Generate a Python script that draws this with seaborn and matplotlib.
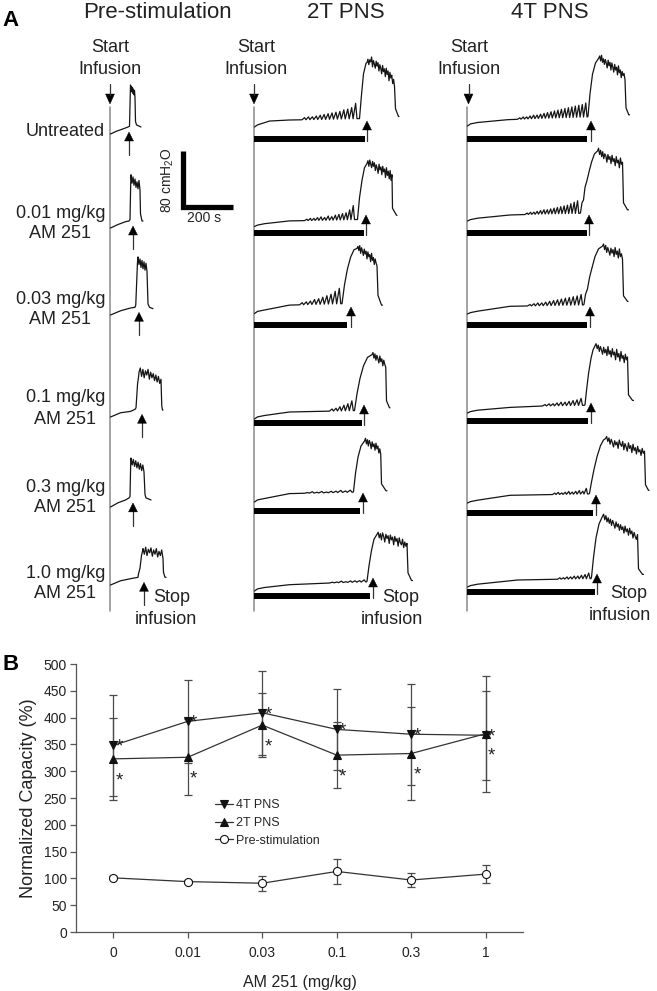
import numpy as np
import pandas as pd
import matplotlib
matplotlib.use("Agg")
import matplotlib.pyplot as plt
from matplotlib.patches import Polygon
import seaborn as sns

# ------------------------------------------------------------------ panel B data
dose_labels = ["0", "0.01", "0.03", "0.1", "0.3", "1"]
pns4_mean = [348, 393, 409, 378, 369, 367]
pns4_err = [94, 77, 78, 75, 94, 83]
pns2_mean = [323, 326, 386, 330, 333, 370]
pns2_err = [76, 71, 60, 62, 86, 108]
pre_mean = [101, 94, 91, 113, 97, 108]
pre_err = [3, 3, 14, 23, 13, 17]
series_names = ["4T PNS", "2T PNS", "Pre-stimulation"]

# ------------------------------------------------------------------ panel A data
column_titles = ["Pre-stimulation", "2T PNS", "4T PNS"]
row_first = ["Untreated", "0.01 mg/kg", "0.03 mg/kg", "0.1 mg/kg", "0.3 mg/kg", "1.0 mg/kg"]
row_second = ["", "AM 251", "AM 251", "AM 251", "AM 251", "AM 251"]

# cystometrogram traces: time (s), pressure (cmH2O)
pre_traces = [
    dict(base=[(0, 4), (24, 8), (48, 11), (70, 14)], rise=[(76, 15), (79, 60)],
         top=(80, 98, [74, 66, 72, 64, 70, 62, 68, 60, 66, 56]), fall=[(100, 22), (104, 17), (122, 14)]),
    dict(base=[(0, 4), (30, 9), (60, 13), (74, 14)], rise=[(78, 16), (81, 70)],
         top=(82, 118, [80, 68, 77, 65, 74, 62, 70, 60, 72, 58]), fall=[(120, 24), (126, 14), (130, 14)]),
    dict(base=[(0, 4), (40, 10), (80, 14), (98, 15)], rise=[(101, 18), (108, 80)],
         top=(110, 146, [87, 76, 84, 72, 82, 70, 80, 68, 78, 66]), fall=[(150, 20), (156, 15), (170, 13)]),
    dict(base=[(0, 4), (40, 10), (80, 12), (98, 15)], rise=[(102, 17), (108, 50), (113, 64)],
         top=(114, 202, [68, 74, 62, 72, 60, 70, 64, 72, 58, 68, 60, 66, 56, 64, 54, 62, 52, 58]),
         fall=[(205, 20), (208, 14), (210, 14)]),
    dict(base=[(0, 4), (30, 10), (60, 14), (74, 17)], rise=[(78, 19), (81, 70)],
         top=(82, 134, [74, 64, 72, 62, 70, 60, 68, 58, 66, 56, 64, 54]), fall=[(138, 22), (142, 17), (162, 14)]),
    dict(base=[(0, 4), (40, 10), (80, 13), (110, 15)], rise=[(112, 20), (118, 28), (124, 46), (128, 52)],
         top=(130, 210, [56, 48, 58, 46, 55, 50, 57, 45, 54, 48, 56, 44, 52, 46, 54, 42]),
         fall=[(212, 22), (218, 15), (222, 15)]),
]

pns2_traces = [
    dict(base=[(0, 4), (12, 7), (60, 12.5), (140, 14), (300, 15), (418, 16)],
         osc=(190, 410, [3, 4, 4, 5, 6, 7, 8, 9, 10, 11, 13, 14, 16, 22]),
         rise=[(420, 16), (428, 50), (436, 80), (446, 95)],
         top=(450, 560, [96, 101, 93, 100, 97, 104, 90, 99, 94, 88, 98, 91, 96, 84, 93, 88, 80, 92,
                         83, 87, 76, 88, 79, 84, 70, 82, 74, 78, 66, 72, 62]),
         fall=[(564, 30), (576, 19), (578, 19)]),
    dict(base=[(0, 4), (12, 6), (40, 8), (140, 12), (300, 13), (410, 14)],
         osc=(200, 400, [2, 3, 3, 4, 5, 4, 6, 5, 7, 8, 9, 10, 14, 20]),
         rise=[(412, 14), (420, 45), (430, 70), (440, 88)],
         top=(450, 550, [94, 98, 90, 99, 93, 88, 97, 90, 95, 84, 92, 87, 80, 93, 85, 89, 78, 90, 82,
                         86, 74, 88, 77, 83, 72, 84, 70, 78]),
         fall=[(552, 30), (568, 20), (570, 20)]),
    dict(base=[(0, 4), (12, 7), (40, 9), (140, 16), (348, 18)],
         osc=(180, 345, [3, 4, 5, 7, 8, 10, 12, 14, 18, 22]),
         rise=[(350, 18), (360, 45), (372, 68), (385, 85), (398, 95)],
         top=(410, 490, [97, 100, 94, 101, 90, 98, 93, 87, 96, 89, 93, 82, 92, 85, 88, 78, 90, 80,
                         84, 74, 82, 76, 72]),
         fall=[(494, 30), (508, 16), (512, 16)]),
    dict(base=[(0, 4), (12, 7), (40, 9), (140, 14), (398, 16)],
         osc=(300, 395, [3, 4, 6, 8, 10, 14]),
         rise=[(400, 16), (410, 40), (422, 62), (436, 80), (452, 92)],
         top=(470, 525, [96, 99, 91, 97, 88, 95, 90, 84, 94, 86, 90, 80, 88, 82, 78]),
         fall=[(528, 30), (540, 20), (542, 20)]),
    dict(base=[(0, 4), (12, 7), (40, 9), (140, 16), (394, 18)],
         osc=(200, 390, [1, 2, 1, 2, 1, 2, 2, 3, 2, 3]),
         rise=[(396, 19), (404, 45), (414, 68), (426, 84)],
         top=(440, 505, [91, 95, 87, 93, 84, 92, 88, 80, 90, 83, 87, 78, 88, 80, 84, 74, 80, 72]),
         fall=[(508, 30), (526, 20), (530, 20)]),
    dict(base=[(0, 4), (12, 7), (40, 9), (140, 13), (340, 16), (448, 17)],
         osc=(300, 445, [1, 1, 2, 1, 2, 2, 2, 3]),
         rise=[(450, 18), (458, 40), (468, 62), (478, 78)],
         top=(490, 610, [85, 88, 80, 86, 77, 87, 82, 74, 85, 79, 83, 72, 84, 77, 81, 70, 82, 75,
                         79, 68, 80, 73, 70, 78, 66, 74, 68, 72]),
         fall=[(614, 30), (628, 19), (632, 19)]),
]

pns4_traces = [
    dict(base=[(0, 4), (12, 7), (40, 9), (160, 13), (300, 15), (480, 17)],
         osc=(200, 478, [2, 3, 3, 4, 5, 5, 6, 7, 8, 9, 10, 11, 12, 13, 14, 15, 16, 17, 18, 20]),
         rise=[(482, 18), (490, 50), (500, 78), (512, 94)],
         top=(525, 630, [101, 104, 97, 105, 95, 100, 92, 99, 94, 87, 98, 90, 95, 84, 94, 88, 81, 92,
                         84, 88, 77, 90, 80, 84, 73, 82, 76, 79, 70]),
         fall=[(634, 30), (645, 20), (648, 20)]),
    dict(base=[(0, 4), (12, 6), (40, 8), (170, 12.6), (300, 14), (450, 15)],
         osc=(230, 445, [2, 3, 3, 4, 5, 6, 6, 7, 8, 9, 10, 11, 12, 14, 16, 18]),
         rise=[(452, 16), (458, 30), (464, 34), (470, 52), (478, 62), (486, 74), (496, 88), (508, 100)],
         top=(520, 620, [104, 108, 99, 105, 96, 103, 93, 100, 97, 88, 99, 92, 96, 86, 98, 89, 93, 83,
                         96, 87, 91, 80, 94, 85, 88]),
         fall=[(624, 30), (640, 20), (644, 20)]),
    dict(base=[(0, 4), (12, 6), (40, 8), (170, 15), (464, 17)],
         osc=(240, 460, [2, 3, 4, 4, 5, 6, 7, 8, 9, 10, 11, 12, 13, 15]),
         rise=[(466, 18), (472, 32), (480, 40), (488, 56), (498, 70), (510, 86), (524, 97)],
         top=(540, 620, [101, 104, 96, 102, 92, 99, 94, 88, 98, 91, 96, 86, 99, 89, 94, 84, 97, 86,
                         90, 82]),
         fall=[(624, 30), (640, 22), (642, 22)]),
    dict(base=[(0, 4), (12, 6), (40, 8), (170, 12), (300, 14), (468, 15)],
         osc=(300, 460, [2, 3, 3, 4, 5, 5, 6, 7, 8, 10]),
         rise=[(470, 16), (476, 36), (484, 60), (494, 82), (502, 94)],
         top=(510, 640, [100, 103, 96, 101, 92, 99, 94, 88, 98, 90, 95, 86, 99, 88, 93, 84, 96, 87,
                         91, 80, 95, 84, 89, 78, 92, 82, 86, 76, 88, 80, 84]),
         fall=[(644, 30), (660, 22), (664, 22)]),
    dict(base=[(0, 4), (12, 6), (40, 8), (170, 15), (486, 17)],
         osc=(340, 480, [2, 3, 2, 3, 4, 3, 4, 5, 4, 8]),
         rise=[(488, 18), (496, 34), (506, 52), (518, 70), (532, 86), (544, 94)],
         top=(552, 708, [96, 99, 92, 97, 88, 95, 90, 84, 93, 87, 91, 82, 94, 88, 85, 92, 80, 89, 84,
                         78, 90, 82, 86, 76, 88, 79, 83, 74, 85, 77, 80, 72, 82, 75, 78]),
         fall=[(712, 30), (724, 22), (726, 22)]),
    dict(base=[(0, 4), (12, 6), (40, 8), (200, 14), (494, 16)],
         osc=(360, 490, [2, 2, 3, 3, 4, 4, 5, 6, 8]),
         rise=[(496, 18), (504, 46), (514, 74), (526, 94)],
         top=(540, 680, [105, 108, 100, 106, 97, 103, 95, 101, 92, 99, 94, 88, 97, 90, 94, 85, 93, 86,
                         90, 81, 91, 83, 87, 78, 88, 80, 84, 74, 82, 76, 72, 79]),
         fall=[(684, 30), (700, 22), (704, 22)]),
]

# time of "stop infusion" arrows (s) and infusion duration bars (s)
arrow_times = [
    [74, 90, 114, 126, 90, 134],
    [450, 446, 386, 438, 434, 474],
    [494, 486, 490, 494, 514, 518],
]
infusion_times = [
    None,
    [442, 438, 370, 430, 422, 462],
    [478, 478, 478, 482, 502, 510],
]
scale_pressure = 80   # cmH2O
scale_time = 200      # s

# ------------------------------------------------------------------ style
sns.set_theme(style="ticks")
plt.rcParams["font.family"] = ["Liberation Sans", "DejaVu Sans"]
plt.rcParams["mathtext.default"] = "regular"
TXT = "#222222"

fig = plt.figure(figsize=(6.57, 9.91), dpi=100)
fig.patch.set_facecolor("white")

# ------------------------------------------------------------------ panel A (pixel coordinates)
axA = fig.add_axes([0, 0, 1, 1])
axA.set_xlim(0, 657)
axA.set_ylim(991, 0)
axA.axis("off")

XCOL = [110.5, 254.5, 467.5]
S_PX = 0.25    # px per s
P_PX = 0.7     # px per cmH2O
start_y = [[134, 228, 315, 417, 507, 585],
           [127, 226.5, 313.5, 419, 502, 591],
           [126, 221, 314, 413, 503, 587]]
bar_y = [None, [139, 233, 325, 423, 511, 596], [139, 233, 325, 421, 513, 592]]


def build_trace(tr):
    bt = np.array([q[0] for q in tr["base"]], float)
    bp = np.array([q[1] for q in tr["base"]], float)
    ts, ps = [], []
    if tr.get("osc"):
        t0, t1, amps = tr["osc"]
        for t, p in tr["base"]:
            if t < t0:
                ts.append(t); ps.append(p)
        edges = np.linspace(t0, t1, len(amps) + 1)
        for i, a in enumerate(amps):
            ta = edges[i]
            tb = edges[i] + 0.65 * (edges[i + 1] - edges[i])
            ts += [ta, tb]
            ps += [np.interp(ta, bt, bp), np.interp(tb, bt, bp) + a]
        ts.append(t1); ps.append(np.interp(t1, bt, bp))
        for t, p in tr["base"]:
            if t > t1:
                ts.append(t); ps.append(p)
    else:
        ts += list(bt); ps += list(bp)
    for t, p in tr["rise"]:
        ts.append(t); ps.append(p)
    t0, t1, vals = tr["top"]
    ts += list(np.linspace(t0, t1, len(vals))); ps += list(vals)
    for t, p in tr["fall"]:
        ts.append(t); ps.append(p)
    return np.array(ts, float), np.array(ps, float)


def up_arrow(x, tip, bottom):
    axA.add_patch(Polygon([(x - 4.5, tip + 9), (x + 4.5, tip + 9), (x, tip)],
                          closed=True, facecolor="black", edgecolor="black", lw=0.3, zorder=4))
    axA.plot([x, x], [tip + 8, bottom], color="#333333", lw=0.9, zorder=3)


def down_arrow(x):
    axA.plot([x, x], [84, 95], color="#333333", lw=0.9)
    axA.add_patch(Polygon([(x - 4.5, 94), (x + 4.5, 94), (x, 104)],
                          closed=True, facecolor="black", edgecolor="black", lw=0.3))


all_traces = [pre_traces, pns2_traces, pns4_traces]
for c, traces in enumerate(all_traces):
    xc = XCOL[c]
    axA.plot([xc - 0.5, xc - 0.5], [107, 611], color="#8a8a8a", lw=1.1, zorder=1)
    down_arrow(xc - 0.5 + (1.5 if c == 2 else 0))
    for r, tr in enumerate(traces):
        t, p = build_trace(tr)
        y0 = start_y[c][r] + 4 * P_PX
        axA.plot(xc + t * S_PX, y0 - p * P_PX, color="#151515", lw=0.9, zorder=3)
        xa = xc + arrow_times[c][r] * S_PX
        if c == 0:
            tip = y0 - tr["base"][-1][1] * P_PX + 5
            up_arrow(xa, tip, tip + 23)
        else:
            by = bar_y[c][r]
            axA.plot([xc - 0.5, xc + infusion_times[c][r] * S_PX], [by, by],
                     color="black", lw=4.3, solid_capstyle="butt", zorder=2)
            up_arrow(xa, by - 18, by + 2)

# column titles and "Start Infusion"
title_x = [157, 346, 550]
start_x = [110, 256, 469]
for c in range(3):
    axA.text(title_x[c], 13, column_titles[c], fontsize=16, ha="center", va="center", color=TXT)
    axA.text(start_x[c], 48, "Start", fontsize=13, ha="center", va="center", color=TXT)
    axA.text(start_x[c], 70, "Infusion", fontsize=13, ha="center", va="center", color=TXT)

# row labels
renderer = fig.canvas.get_renderer()
row_y1 = [132, 213, 299, 398, 487, 573]
for r in range(6):
    t1 = axA.text(105, row_y1[r], row_first[r], fontsize=13, ha="right", va="center", color=TXT)
    if row_second[r]:
        bb = t1.get_window_extent(renderer=renderer)
        cx = 105 - bb.width / 2.0
        axA.text(cx, row_y1[r] + 21, row_second[r], fontsize=13, ha="center", va="center", color=TXT)

# stop infusion labels
stop_pos = [(153, 597, 166, 619), (382, 597, 392, 619), (610, 594, 620, 616)]
for sx, sy, ix, iy in stop_pos:
    axA.text(sx, sy, "Stop", fontsize=13, ha="left", va="center", color=TXT)
    axA.text(ix, iy, "infusion", fontsize=13, ha="center", va="center", color=TXT)

# scale bar
sb_x, sb_y = 182.5, 206.5
axA.plot([sb_x, sb_x, sb_x + scale_time * S_PX], [sb_y - scale_pressure * P_PX, sb_y, sb_y],
         color="black", lw=3.8, solid_joinstyle="miter", solid_capstyle="butt")
axA.text(168, 180, "80 cmH$_2$O", fontsize=10, rotation=90, ha="center", va="center", color=TXT)
axA.text(204, 218, "200 s", fontsize=10, ha="center", va="center", color=TXT)

axA.text(2, 21, "A", fontsize=16, fontweight="bold", ha="left", va="center", color="black")
axA.text(2, 664, "B", fontsize=16, fontweight="bold", ha="left", va="center", color="black")

# ------------------------------------------------------------------ panel B
axB = fig.add_axes([76 / 657, 1 - 932 / 991, (523 - 76) / 657, (932 - 664) / 991])
axB.set_facecolor("none")
xpos = np.arange(len(dose_labels))

specs = [
    (series_names[0], pns4_mean, pns4_err, "v", "#111111"),
    (series_names[1], pns2_mean, pns2_err, "^", "#111111"),
    (series_names[2], pre_mean, pre_err, "o", "white"),
]
for name, mean, err, mk, mfc in specs:
    axB.errorbar(xpos, mean, yerr=err, fmt="none", ecolor="#4a4a4a", elinewidth=0.9,
                 capsize=2.8, capthick=0.9, zorder=2)
    sns.lineplot(x=xpos, y=mean, ax=axB, color="#333333", linewidth=0.9, marker=mk,
                 markersize=5.8, markerfacecolor=mfc, markeredgecolor="#111111",
                 markeredgewidth=0.8, label=name, errorbar=None, zorder=3)

# significance asterisks (4T above-right, 2T below-right of each point)
for i in xpos:
    axB.annotate("*", (i, pns4_mean[i]), xytext=(4.2, -4.6), textcoords="offset points",
                 ha="center", va="baseline", fontsize=13.5, color=TXT)
    axB.annotate("*", (i, pns2_mean[i]), xytext=(4.2, -19.0), textcoords="offset points",
                 ha="center", va="baseline", fontsize=13.5, color=TXT)

axB.set_xlim(-0.5, 5.5)
axB.set_ylim(0, 500)
axB.set_yticks(np.arange(0, 501, 50))
axB.set_xticks(xpos)
axB.set_xticklabels(dose_labels)
axB.tick_params(axis="both", direction="out", length=4, width=0.9, color="#555555",
                labelcolor=TXT)
axB.tick_params(axis="y", labelsize=10, pad=2.5)
axB.tick_params(axis="x", labelsize=10, pad=6)
sns.despine(ax=axB)
for s in ["left", "bottom"]:
    axB.spines[s].set_color("#555555")
    axB.spines[s].set_linewidth(0.9)
axB.set_ylabel("Normalized Capacity (%)", fontsize=13, color=TXT, labelpad=5)
axB.set_xlabel("AM 251 (mg/kg)", fontsize=11.5, color=TXT, labelpad=11)

axB.legend(loc="upper left", bbox_to_anchor=(0.31, 0.495), frameon=False, fontsize=9,
           handlelength=1.5, handletextpad=0.2, labelspacing=0.45, borderaxespad=0,
           borderpad=0)

fig.savefig("out.png", dpi=100, facecolor="white")
